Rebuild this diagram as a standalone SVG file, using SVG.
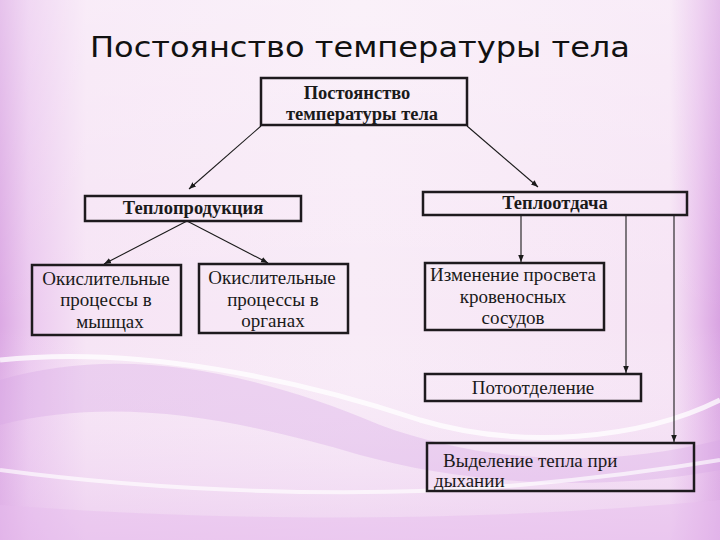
<svg xmlns="http://www.w3.org/2000/svg" width="720" height="540" viewBox="0 0 720 540">
<defs>
<linearGradient id="bgH" x1="0" y1="0" x2="1" y2="0">
<stop offset="0" stop-color="#dca9e4"/>
<stop offset="0.04" stop-color="#ebc8ef"/>
<stop offset="0.12" stop-color="#f6e4f5"/>
<stop offset="0.5" stop-color="#f8ebf7"/>
<stop offset="0.93" stop-color="#f6e4f5"/>
<stop offset="0.97" stop-color="#e8c0ec"/>
<stop offset="1" stop-color="#d9a3e2"/>
</linearGradient>
<linearGradient id="bgV" x1="0" y1="0" x2="0" y2="1">
<stop offset="0" stop-color="#ffffff" stop-opacity="0.3"/>
<stop offset="0.6" stop-color="#ffffff" stop-opacity="0"/>
<stop offset="1" stop-color="#e2b5ea" stop-opacity="0.45"/>
</linearGradient>
<marker id="ah" viewBox="0 0 10 10" refX="10" refY="5" markerWidth="7" markerHeight="7" orient="auto-start-reverse" markerUnits="userSpaceOnUse">
<path d="M0,1 L10,5 L0,9 z" fill="#1a1a1a"/>
</marker>
<style>
.box{fill:none;stroke:#1e1a1e;stroke-width:2.5}
.lbl{font-family:"Liberation Serif","Times New Roman",serif;font-size:19px;fill:#1a1a1a;text-anchor:middle}
.b{font-weight:bold;font-size:18.5px}
.l{text-anchor:start}
.con{stroke:#1a1a1a;stroke-width:1.1;fill:none;marker-end:url(#ah)}
</style>
</defs>
<g id="background">
<rect width="720" height="540" fill="url(#bgH)"/>
<rect width="720" height="540" fill="url(#bgV)"/>
<path d="M0,380 C120,345 250,370 380,425 C480,462 600,470 720,440 L720,470 C600,492 470,485 360,455 C240,420 120,395 0,425 z" fill="#d6a6e6" opacity="0.35"/>
<path d="M0,360 C140,345 300,380 420,420 C520,450 640,440 720,400" stroke="#ffffff" stroke-width="5" fill="none" opacity="0.75"/>
<path d="M0,470 C150,490 350,500 520,485 C600,478 660,470 720,460" stroke="#ffffff" stroke-width="4" fill="none" opacity="0.65"/>
<path d="M0,505 C200,520 450,525 720,500 L720,540 L0,540 z" fill="#e6bcee" opacity="0.45"/>
</g>
<text x="90" y="57" font-family="'DejaVu Sans',Verdana,sans-serif" font-size="28" fill="#111" textLength="540" lengthAdjust="spacingAndGlyphs">Постоянство температуры тела</text>
<g id="connectors">
<line class="con" x1="261" y1="126" x2="189" y2="189"/>
<line class="con" x1="467" y1="126" x2="538" y2="187"/>
<line class="con" x1="187" y1="221" x2="104" y2="264"/>
<line class="con" x1="187" y1="221" x2="268" y2="263"/>
<line class="con" x1="521" y1="216" x2="521" y2="262"/>
<line class="con" x1="626" y1="216" x2="626" y2="373"/>
<line class="con" x1="674" y1="216" x2="674" y2="442"/>
</g>
<g id="n_top">
<rect class="box" x="261" y="78" width="206" height="47"/>
<text class="lbl b" x="357" y="99">Постоянство</text>
<text class="lbl b" x="362" y="120">температуры тела</text>
</g>
<g id="n_prod">
<rect class="box" x="85" y="196" width="216" height="25"/>
<text class="lbl b" x="193" y="214">Теплопродукция</text>
</g>
<g id="n_otd">
<rect class="box" x="423" y="192" width="264" height="23"/>
<text class="lbl b" x="555" y="209">Теплоотдача</text>
</g>
<g id="n_musc">
<rect class="box" x="32" y="265" width="149" height="70"/>
<text class="lbl" x="106" y="285">Окислительные</text>
<text class="lbl" x="106" y="306">процессы в</text>
<text class="lbl" x="110" y="328">мышцах</text>
</g>
<g id="n_org">
<rect class="box" x="199" y="264" width="149" height="69"/>
<text class="lbl" x="272" y="284">Окислительные</text>
<text class="lbl" x="273" y="306">процессы в</text>
<text class="lbl" x="273" y="327">органах</text>
</g>
<g id="n_vess">
<rect class="box" x="425" y="263" width="179" height="67"/>
<text class="lbl" x="513" y="281">Изменение просвета</text>
<text class="lbl" x="513" y="303">кровеносных</text>
<text class="lbl" x="513" y="324">сосудов</text>
</g>
<g id="n_sweat">
<rect class="box" x="425" y="374" width="216" height="27"/>
<text class="lbl" x="533" y="394">Потоотделение</text>
</g>
<g id="n_breath">
<rect class="box" x="427" y="443" width="267" height="48"/>
<text class="lbl l" x="443" y="467">Выделение тепла при</text>
<text class="lbl l" x="434" y="487">дыхании</text>
</g>
</svg>
